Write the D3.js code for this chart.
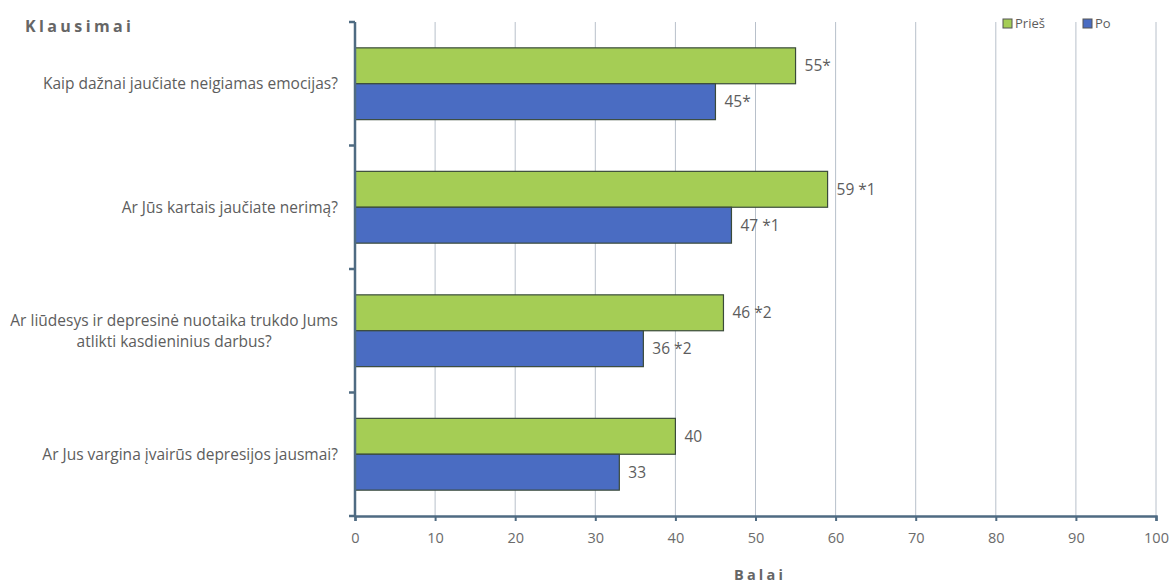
<!DOCTYPE html>
<html>
<head>
<meta charset="utf-8">
<script src="https://cdn.jsdelivr.net/npm/d3@7"></script>
<style>
  html, body { margin: 0; padding: 0; background: #ffffff; }
  svg { display: block; }
  text { font-family: "Open Sans", "Noto Sans", sans-serif; }
</style>
</head>
<body>
<svg id="chart" width="1171" height="585"></svg>
<script>
// Questions (top to bottom) and the scores before / after
const questions = [
  ["Kaip dažnai jaučiate neigiamas emocijas?"],
  ["Ar Jūs kartais jaučiate nerimą?"],
  ["Ar liūdesys ir depresinė nuotaika trukdo Jums", "atlikti kasdieninius darbus?"],
  ["Ar Jus vargina įvairūs depresijos jausmai?"]
];
const pries = [55, 59, 46, 40];
const po = [45, 47, 36, 33];
const priesLabels = ["55*", "59 *1", "46 *2", "40"];
const poLabels = ["45*", "47 *1", "36 *2", "33"];
const seriesNames = ["Prieš", "Po"];
const xTicks = [0, 10, 20, 30, 40, 50, 60, 70, 80, 90, 100];

const colors = { "Prieš": "#a5cd55", "Po": "#4a6cc2" };
const barStroke = "#3a4a3a";
const axisColor = "#4f6b82";
const textColor = "#5d5d5d";

const svg = d3.select("#chart");
const plotLeft = 355, plotRight = 1156, plotTop = 22, plotBottom = 516;

const x = d3.scaleLinear().domain([0, 100]).range([plotLeft, plotRight]);
const y = d3.scaleBand().domain(d3.range(questions.length)).range([plotTop, plotBottom]).paddingInner(0).paddingOuter(0);
const inner = d3.scaleBand().domain(seriesNames).range([0, y.bandwidth()]).paddingOuter(0.72).paddingInner(0);

// vertical grid lines
svg.append("g")
  .selectAll("line")
  .data(xTicks.slice(1))
  .join("line")
  .attr("x1", d => x(d)).attr("x2", d => x(d))
  .attr("y1", plotTop).attr("y2", plotBottom)
  .attr("stroke", "#b8c0ca").attr("stroke-width", 1);

// bars
const rows = questions.map((q, i) => ({ i, values: [
  { s: "Prieš", v: pries[i], label: priesLabels[i] },
  { s: "Po", v: po[i], label: poLabels[i] }
]}));

const g = svg.append("g");
const grp = g.selectAll("g.q").data(rows).join("g")
  .attr("transform", d => `translate(0,${y(d.i)})`);

grp.selectAll("rect").data(d => d.values).join("rect")
  .attr("x", x(0))
  .attr("y", d => inner(d.s))
  .attr("width", d => x(d.v) - x(0))
  .attr("height", inner.bandwidth())
  .attr("fill", d => colors[d.s])
  .attr("stroke", barStroke).attr("stroke-width", 1.2);

grp.selectAll("text.val").data(d => d.values).join("text")
  .attr("class", "val")
  .attr("x", d => x(d.v) + 9)
  .attr("y", d => inner(d.s) + inner.bandwidth() / 2)
  .attr("dy", "0.35em")
  .attr("font-size", 15.5)
  .attr("fill", textColor)
  .text(d => d.label);

// category labels: lines centred on each other, block right-aligned
const lab = svg.append("g");
questions.forEach((lines, i) => {
  const cy = y(i) + y.bandwidth() / 2;
  const t = lab.append("text")
    .attr("font-size", 15.5)
    .attr("fill", textColor)
    .attr("text-anchor", "middle");
  const lh = 21;
  lines.forEach((ln, k) => {
    t.append("tspan")
      .attr("x", 0)
      .attr("y", cy + (k - (lines.length - 1) / 2) * lh)
      .attr("dy", "0.35em")
      .text(ln);
  });
  const bb = t.node().getBBox();
  t.selectAll("tspan").attr("x", 338 - bb.width / 2);
});

// left axis with outward ticks at category boundaries
const la = svg.append("g").attr("stroke", axisColor).attr("stroke-width", 2.5);
la.append("line").attr("x1", plotLeft).attr("x2", plotLeft).attr("y1", plotTop).attr("y2", plotBottom);
const bounds = d3.range(questions.length + 1).map(i => plotTop + i * y.step());
la.selectAll("line.t").data(bounds).join("line").attr("class", "t")
  .attr("x1", plotLeft - 6).attr("x2", plotLeft).attr("y1", d => d).attr("y2", d => d);

// bottom axis
const xa = svg.append("g")
  .attr("transform", `translate(0,${plotBottom})`)
  .call(d3.axisBottom(x).tickValues(xTicks).tickSize(5).tickPadding(12));
xa.select(".domain").attr("stroke", axisColor).attr("stroke-width", 2.5);
xa.selectAll(".tick line").attr("stroke", axisColor).attr("stroke-width", 2);
xa.selectAll(".tick text").attr("font-size", 14.5).attr("fill", "#6b6b6b")
  .attr("font-family", "'Open Sans', sans-serif");

// axis titles
svg.append("text").attr("x", 25).attr("y", 32)
  .attr("font-size", 16).attr("font-weight", "bold").attr("letter-spacing", 3.4)
  .attr("fill", "#666").text("Klausimai");
svg.append("text").attr("x", 760).attr("y", 580)
  .attr("text-anchor", "middle")
  .attr("font-size", 14.5).attr("font-weight", "bold").attr("letter-spacing", 3.2)
  .attr("fill", "#666").text("Balai");

// legend
const leg = svg.append("g");
const legX = [1003, 1083];
seriesNames.forEach((s, i) => {
  leg.append("rect").attr("x", legX[i]).attr("y", 19).attr("width", 9).attr("height", 9)
    .attr("fill", colors[s]).attr("stroke", "#555").attr("stroke-width", 1);
  leg.append("text").attr("x", legX[i] + 12).attr("y", 28)
    .attr("font-size", 13).attr("fill", textColor).text(s);
});
</script>
</body>
</html>
